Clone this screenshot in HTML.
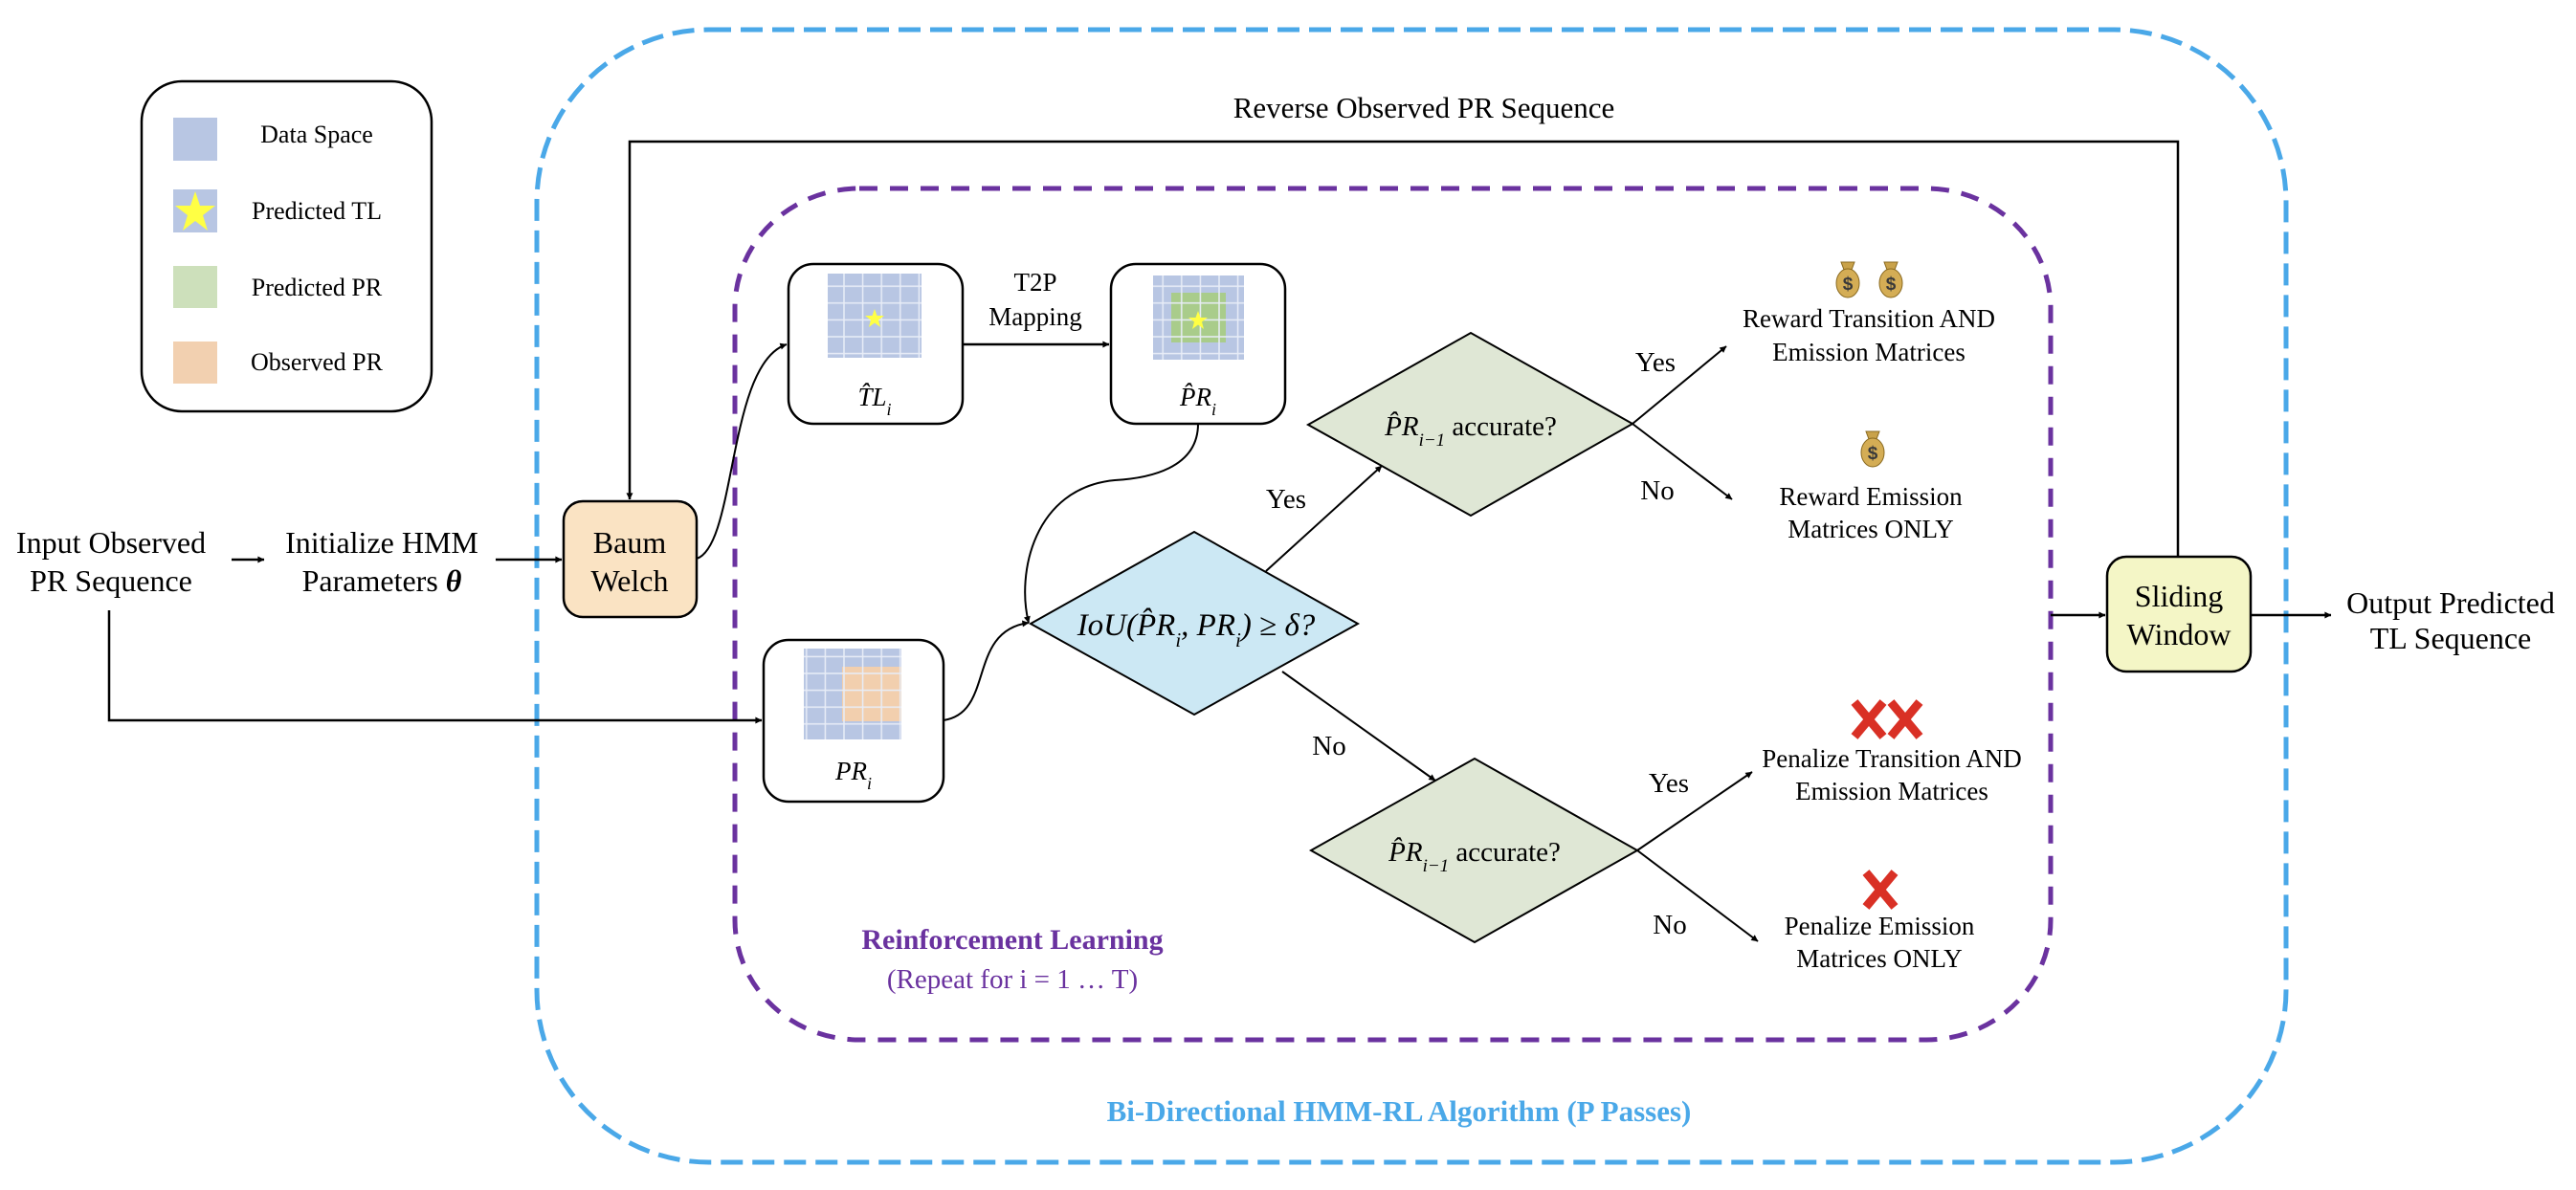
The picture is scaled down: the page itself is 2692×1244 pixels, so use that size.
<!DOCTYPE html>
<html><head><meta charset="utf-8"><style>
html,body{margin:0;padding:0;background:#fff;}
svg{display:block;}
text{font-family:"Liberation Serif",serif;fill:#000;}
</style></head><body>
<svg width="2692" height="1244" viewBox="0 0 2692 1244" xmlns="http://www.w3.org/2000/svg" font-family="Liberation Serif, serif">
<defs>
<marker id="ah" viewBox="0 0 10 10" refX="9" refY="5" markerWidth="5" markerHeight="5" orient="auto" markerUnits="userSpaceOnUse" style="overflow:visible">
<path d="M0,0 L10,5 L0,10 z" fill="#000" transform="scale(1.4) translate(-3,-1.4)"/>
</marker>
<pattern id="grid" width="19.6" height="17.6" patternUnits="userSpaceOnUse">
<rect width="19.6" height="17.6" fill="none" stroke="#e8edf7" stroke-width="1.5"/>
</pattern>
<g id="bag">
<path d="M-7,-18 L7,-18 L4,-10 L-4,-10 z" fill="#c9a24a" stroke="#8a6a20" stroke-width="1"/>
<ellipse cx="0" cy="4" rx="12" ry="15" fill="#d4ad55" stroke="#8a6a20" stroke-width="1"/>
<text x="0" y="11" text-anchor="middle" style="font-family:'Liberation Sans',sans-serif;font-size:19px;font-weight:bold;fill:#3a3a3a">$</text>
</g>
<g id="rx">
<line x1="-15" y1="-18" x2="15" y2="18" stroke="#d93025" stroke-width="9"/>
<line x1="15" y1="-18" x2="-15" y2="18" stroke="#d93025" stroke-width="9"/>
</g>
</defs>

<rect x="561" y="31" width="1828" height="1184" rx="180" ry="180" fill="none" stroke="#4aa8e8" stroke-width="5" stroke-dasharray="23,10"/>
<rect x="768" y="197" width="1375" height="890" rx="130" ry="125" fill="none" stroke="#6a329f" stroke-width="5" stroke-dasharray="19,13"/>

<rect x="148" y="85" width="303" height="345" rx="42" ry="42" fill="#fff" stroke="#000" stroke-width="2.5"/>
<rect x="181" y="123" width="46" height="45" fill="#b8c6e3"/>
<rect x="181" y="198" width="46" height="45" fill="#b8c6e3"/>
<polygon points="204,200 209,215 225,215 212,225 217,241 204,231 191,241 196,225 183,215 199,215" fill="#ffff44"/>
<rect x="181" y="278" width="46" height="44" fill="#cde0bb"/>
<rect x="181" y="357" width="46" height="44" fill="#f2d0b0"/>
<g style="font-size:26px" text-anchor="middle">
<text x="331" y="149">Data Space</text>
<text x="331" y="229">Predicted TL</text>
<text x="331" y="309">Predicted PR</text>
<text x="331" y="387">Observed PR</text>
</g>

<polyline points="2276,582 2276,148 658,148 658,522" fill="none" stroke="#000" stroke-width="2.5" marker-end="url(#ah)"/>
<text x="1488" y="123" text-anchor="middle" style="font-size:31px">Reverse Observed PR Sequence</text>

<g style="font-size:32px" text-anchor="middle">
<text x="116" y="578">Input Observed</text>
<text x="116" y="618">PR Sequence</text>
<text x="399" y="578">Initialize HMM</text>
<text x="399" y="618">Parameters <tspan font-style="italic" font-weight="bold">θ</tspan></text>
<text x="1082" y="304" style="font-size:27px">T2P</text>
<text x="1082" y="340" style="font-size:27px">Mapping</text>
</g>
<line x1="242" y1="585" x2="276" y2="585" stroke="#000" stroke-width="2.5" marker-end="url(#ah)"/>
<line x1="518" y1="585" x2="587" y2="585" stroke="#000" stroke-width="2.5" marker-end="url(#ah)"/>

<rect x="589" y="524" width="139" height="121" rx="20" ry="20" fill="#fae3c3" stroke="#000" stroke-width="2.5"/>
<text x="658" y="578" text-anchor="middle" style="font-size:32px">Baum</text>
<text x="658" y="618" text-anchor="middle" style="font-size:32px">Welch</text>

<polyline points="114,638 114,753 796,753" fill="none" stroke="#000" stroke-width="2.5" marker-end="url(#ah)"/>

<rect x="824" y="276" width="182" height="167" rx="26" ry="26" fill="#fff" stroke="#000" stroke-width="2.5"/>
<rect x="865" y="286" width="98" height="88" fill="#b8c6e3"/>
<rect x="865" y="286" width="98" height="88" fill="url(#grid)"/>
<polygon points="914,323 916.5,330 924,330 918,334.5 920,342 914,337.5 908,342 910,334.5 904,330 911.5,330" fill="#ffff44"/>
<text x="914" y="424" text-anchor="middle" style="font-size:27px;font-style:italic">T̂L<tspan baseline-shift="sub" style="font-size:18px">i</tspan></text>

<rect x="1161" y="276" width="182" height="167" rx="26" ry="26" fill="#fff" stroke="#000" stroke-width="2.5"/>
<rect x="1205" y="288" width="95" height="88" fill="#b8c6e3"/>
<rect x="1224" y="306" width="57" height="52" fill="#a9cc8b"/>
<rect x="1205" y="288" width="95" height="88" fill="url(#grid)"/>
<polygon points="1252,325 1254.5,332 1262,332 1256,336.5 1258,344 1252,339.5 1246,344 1248,336.5 1242,332 1249.5,332" fill="#ffff44"/>
<text x="1252" y="424" text-anchor="middle" style="font-size:27px;font-style:italic">P̂R<tspan baseline-shift="sub" style="font-size:18px">i</tspan></text>
<line x1="1006" y1="360" x2="1159" y2="360" stroke="#000" stroke-width="2.5" marker-end="url(#ah)"/>

<rect x="798" y="669" width="188" height="169" rx="26" ry="26" fill="#fff" stroke="#000" stroke-width="2.5"/>
<rect x="840" y="678" width="102" height="95" fill="#b8c6e3"/>
<rect x="880" y="697" width="62" height="57" fill="#f2cfae"/>
<rect x="840" y="678" width="102" height="95" fill="url(#grid)"/>
<text x="892" y="815" text-anchor="middle" style="font-size:27px;font-style:italic">PR<tspan baseline-shift="sub" style="font-size:18px">i</tspan></text>

<path d="M728,584 C770,570 760,380 822,360" fill="none" stroke="#000" stroke-width="2" marker-end="url(#ah)"/>
<path d="M1252,443 C1252,490 1200,500 1165,502 C1080,510 1062,600 1075,651" fill="none" stroke="#000" stroke-width="2" marker-end="url(#ah)"/>
<path d="M986,753 C1040,745 1010,660 1075,651" fill="none" stroke="#000" stroke-width="2" marker-end="url(#ah)"/>

<polygon points="1077,652 1248,556 1419,652 1248,747" fill="#cce8f4" stroke="#000" stroke-width="2"/>
<text x="1250" y="664" text-anchor="middle" style="font-size:33px;font-style:italic">IoU(P̂R<tspan baseline-shift="sub" style="font-size:21px">i</tspan>, PR<tspan baseline-shift="sub" style="font-size:21px">i</tspan>) <tspan font-style="normal">≥</tspan> δ?</text>

<line x1="1323" y1="597" x2="1444" y2="487" stroke="#000" stroke-width="2" marker-end="url(#ah)"/>
<text x="1344" y="531" text-anchor="middle" style="font-size:29px">Yes</text>
<line x1="1340" y1="702" x2="1500" y2="816" stroke="#000" stroke-width="2" marker-end="url(#ah)"/>
<text x="1389" y="789" text-anchor="middle" style="font-size:29px">No</text>

<polygon points="1367,444 1537,348 1706,443 1537,539" fill="#dfe7d5" stroke="#000" stroke-width="2"/>
<text x="1537" y="455" text-anchor="middle" style="font-size:29px"><tspan font-style="italic">P̂R</tspan><tspan baseline-shift="sub" style="font-size:19px;font-style:italic">i−1</tspan> accurate?</text>
<line x1="1706" y1="443" x2="1804" y2="362" stroke="#000" stroke-width="2" marker-end="url(#ah)"/>
<line x1="1706" y1="443" x2="1810" y2="522" stroke="#000" stroke-width="2" marker-end="url(#ah)"/>
<text x="1730" y="388" text-anchor="middle" style="font-size:29px">Yes</text>
<text x="1732" y="522" text-anchor="middle" style="font-size:29px">No</text>

<polygon points="1370,889 1541,793 1711,889 1541,985" fill="#dfe7d5" stroke="#000" stroke-width="2"/>
<text x="1541" y="900" text-anchor="middle" style="font-size:29px"><tspan font-style="italic">P̂R</tspan><tspan baseline-shift="sub" style="font-size:19px;font-style:italic">i−1</tspan> accurate?</text>
<line x1="1711" y1="889" x2="1831" y2="807" stroke="#000" stroke-width="2" marker-end="url(#ah)"/>
<line x1="1711" y1="889" x2="1837" y2="984" stroke="#000" stroke-width="2" marker-end="url(#ah)"/>
<text x="1744" y="828" text-anchor="middle" style="font-size:29px">Yes</text>
<text x="1745" y="976" text-anchor="middle" style="font-size:29px">No</text>

<use href="#bag" x="1931" y="292"/>
<use href="#bag" x="1976" y="292"/>
<use href="#bag" x="1957" y="469"/>
<use href="#rx" x="1953" y="752"/>
<use href="#rx" x="1991" y="752"/>
<use href="#rx" x="1965" y="930"/>
<g style="font-size:27px" text-anchor="middle">
<text x="1953" y="342">Reward Transition AND</text>
<text x="1953" y="377">Emission Matrices</text>
<text x="1955" y="528">Reward Emission</text>
<text x="1955" y="562">Matrices ONLY</text>
<text x="1977" y="802">Penalize Transition AND</text>
<text x="1977" y="836">Emission Matrices</text>
<text x="1964" y="977">Penalize Emission</text>
<text x="1964" y="1011">Matrices ONLY</text>
</g>

<rect x="2202" y="582" width="150" height="120" rx="20" ry="20" fill="#f4f6c6" stroke="#000" stroke-width="2.5"/>
<text x="2277" y="634" text-anchor="middle" style="font-size:32px">Sliding</text>
<text x="2277" y="674" text-anchor="middle" style="font-size:32px">Window</text>
<line x1="2143" y1="643" x2="2200" y2="643" stroke="#000" stroke-width="2.5" marker-end="url(#ah)"/>
<line x1="2352" y1="643" x2="2436" y2="643" stroke="#000" stroke-width="2.5" marker-end="url(#ah)"/>
<text x="2561" y="641" text-anchor="middle" style="font-size:32px">Output Predicted</text>
<text x="2561" y="678" text-anchor="middle" style="font-size:32px">TL Sequence</text>

<text x="1058" y="992" text-anchor="middle" style="font-size:30px;font-weight:bold;fill:#6a329f">Reinforcement Learning</text>
<text x="1058" y="1033" text-anchor="middle" style="font-size:29px;fill:#6a329f">(Repeat for i = 1 … T)</text>
<text x="1462" y="1172" text-anchor="middle" style="font-size:31px;font-weight:bold;fill:#4aa8e8">Bi-Directional HMM-RL Algorithm (P Passes)</text>
</svg>
</body></html>
